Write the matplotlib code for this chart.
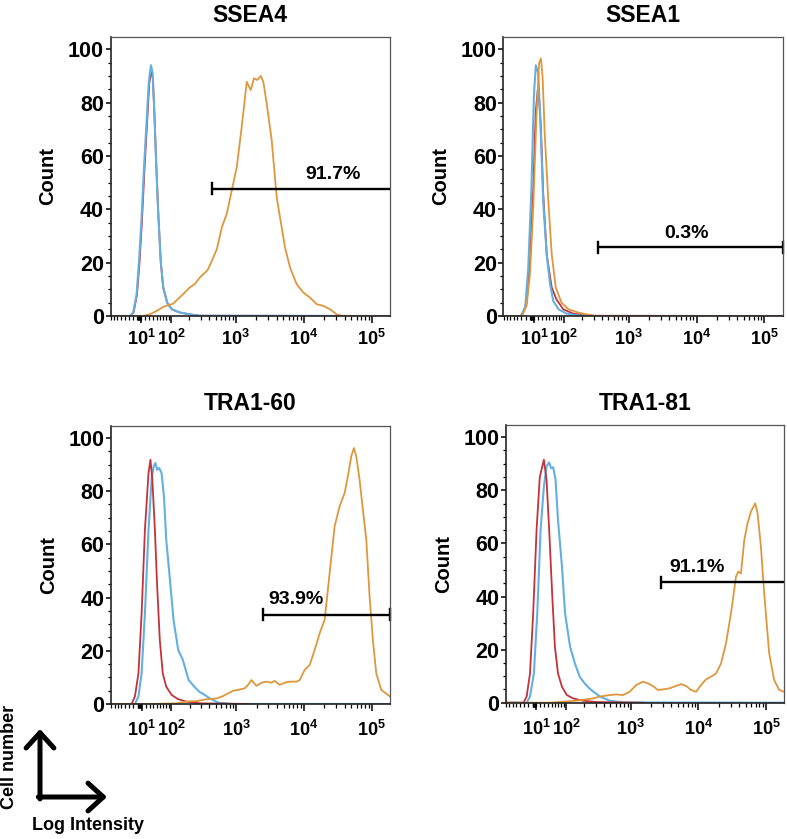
import numpy as np
import matplotlib
matplotlib.use("Agg")
import matplotlib.pyplot as plt
from matplotlib.ticker import FixedLocator, NullFormatter, MultipleLocator
from matplotlib.transforms import blended_transform_factory
from matplotlib.patches import FancyArrowPatch

plt.rcParams['font.family'] = ['Liberation Sans', 'DejaVu Sans']
plt.rcParams['font.weight'] = 'bold'
plt.rcParams['mathtext.fontset'] = 'custom'
plt.rcParams['mathtext.rm'] = 'Liberation Sans:bold'
plt.rcParams['mathtext.bf'] = 'Liberation Sans:bold'
plt.rcParams['mathtext.default'] = 'bf'

# ---------------- data ----------------
panel_titles = ["SSEA4", "SSEA1", "TRA1-60", "TRA1-81"]
gate_labels = ["91.7%", "0.3%", "93.9%", "91.1%"]
gate_start = [441, 350, 2495, 2825]
gate_end = [186000, 186000, 186000, 186000]
gate_level = [47.8, 25.7, 33.5, 45.4]
x_tick_values = [1e1, 1e2, 1e3, 1e4, 1e5]
x_tick_labels = [r"$10^{1}$", r"$10^{2}$", r"$10^{3}$", r"$10^{4}$", r"$10^{5}$"]
y_tick_values = [0, 20, 40, 60, 80, 100]

# SSEA4
ssea4_red_x = [-72, -16, -8, 0, 6, 12, 18, 25, 30, 35, 39.5, 44, 48.5, 54.5, 63, 71, 85, 103, 142, 204, 290, 186000]
ssea4_red_y = [0, 0, 1.3, 8, 20, 36, 55, 74, 87, 92, 89, 75, 59, 40, 20, 10.5, 5, 2.5, 1.3, 0.6, 0.1, 0]
ssea4_blue_x = [-72, -17, -9, -1, 5, 11, 17, 24, 29, 34.5, 39, 43.5, 48, 54, 62.5, 71, 85, 103, 142, 204, 290, 186000]
ssea4_blue_y = [0, 0, 1.3, 8, 20.7, 37, 56, 75, 88, 94, 91, 77, 60, 41, 20.7, 10.7, 5, 2.5, 1.3, 0.6, 0.1, 0]
ssea4_orange_x = [-72, 15, 31, 50, 71, 89, 109, 131, 160, 204, 242, 290, 380, 441, 523, 619, 733, 868, 1029, 1219,
                  1444, 1656, 1851, 2070, 2322, 2536, 2844, 3372, 3993, 4730, 5295, 6272, 7870, 9850, 12350, 15520,
                  19420, 24330, 30530, 38200, 186000]
ssea4_orange_y = [0, 0, 0.6, 1.9, 3.4, 4.1, 4.6, 6.3, 8.2, 10.7, 11.9, 14.4, 17.2, 20.7, 25.1, 33.2, 38.3, 47, 55.8, 70.9,
                  87.8, 84.7, 89.1, 88.5, 90, 87.8, 79.7, 65.9, 44.5, 33.2, 25.7, 18.2, 11.9, 8.8, 6.9, 4.4,
                  3.8, 2.5, 0.6, 0, 0]

# SSEA1
ssea1_red_x = [-72, -19, -7.5, 0.5, 8.3, 14.5, 20.5, 27, 33, 42.5, 57, 72, 98, 145, 235, 186000]
ssea1_red_y = [0, 0, 5, 20.7, 48, 77, 86.6, 71, 46, 23, 10.7, 6.3, 2.5, 0.9, 0.1, 0]
ssea1_blue_x = [-72, -22, -11, -3.6, 4, 10, 14.5, 20.5, 27, 33, 42.5, 52, 62, 80, 112, 163, 262, 186000]
ssea1_blue_y = [0, 0, 3, 18, 48, 83, 94, 91, 68, 43, 23, 12, 5.6, 2.5, 0.9, 0.25, 0, 0]
ssea1_orange_x = [-72, -19, -7.5, 0.5, 8.3, 16, 22.5, 27, 31.5, 37, 47, 57, 70, 91, 121, 174, 262, 330, 186000]
ssea1_orange_y = [0, 0, 3.8, 15.7, 40.8, 74.7, 94.7, 96.6, 89.7, 68.4, 43.3, 23.2, 10.7, 5, 2.5, 1.3, 0.4, 0, 0]

# TRA1-60
tra160_red_x = [-72, -14, -6, 2.4, 10, 18, 27, 32, 37, 44, 50.5, 58.5, 68, 80, 101, 131, 177, 290, 1560]
tra160_red_y = [0, 0, 2.8, 11.5, 34, 65.5, 86.8, 91.8, 84.3, 65.5, 44.2, 24, 11.5, 6.5, 3.4, 1.8, 0.9, 0.25, 0]
tra160_blue_x = [-72, -6, 2.4, 10, 18, 27, 35, 40.5, 45.5, 50.5, 56.7, 64, 72, 80, 94, 109, 131, 156, 193, 237,
                 282, 343, 405, 542, 902, 186000]
tra160_blue_y = [0, 0, 2.8, 11.5, 34, 65.5, 84.3, 89.3, 90.6, 88, 88.7, 86.8, 78, 61.7, 46.7, 31.6, 20.3, 16.6, 9, 6.5,
                 4.6, 3.4, 2.1, 0.5, 0, 0]
tra160_orange_x = [-72, 30.6, 123, 177, 258, 370, 513, 643, 761, 902, 1068, 1340, 1500, 1683, 1994, 2362, 2799, 3313,
                   3706, 4393, 5203, 6165, 7744, 8655, 10260, 12160, 14400, 17060, 20200, 23940, 28370, 33590, 39800,
                   44550, 49910, 54580, 59160, 66200, 74100, 83200, 93000, 104000, 116700, 138300, 173000, 186000]
tra160_orange_y = [0, 0, 0.25, 0.9, 1.1, 1.8, 2.1, 3, 4, 5, 5.3, 5.9, 7.2, 9, 6.8, 8, 8.4, 8,
                   8.7, 7.2, 8, 8.4, 8.4, 9, 12.8, 14.7, 20.3, 26.6, 31.6, 49.2, 66.8, 74.3, 79.3,
                   85.6, 93.1, 96.2, 93.1, 84.3, 73, 61.7, 40.4, 24, 11.5, 5.3, 3.4, 2.8]

# TRA1-81
tra181_red_x = [-72, -21, -13, -5, 2.6, 10.7, 18.5, 28.8, 35.8, 43, 52, 60, 70, 84, 103, 133, 190, 310, 1515]
tra181_red_y = [0, 0, 2.3, 11, 33.7, 65, 85, 91.5, 84, 65, 40, 21, 11, 6, 2.9, 1.6, 0.75, 0.25, 0]
tra181_blue_x = [-72, -13, -5, 4.3, 12.4, 20.5, 28.8, 35.8, 43, 48.6, 54.6, 62, 70, 84, 96, 118, 142, 170, 203, 240,
                 290, 350, 490, 770, 186000]
tra181_blue_y = [0, 0, 2.3, 11, 33.7, 65, 81.4, 89, 90.5, 88.3, 88.7, 84, 68.8, 51.3, 33.7, 21, 14.8, 9.8, 7.3, 5.4,
                 3.8, 2.3, 0.75, 0.1, 0]
tra181_orange_x = [-72, 44, 150, 220, 274, 344, 490, 615, 770, 965, 1210, 1515, 1794, 2126, 2520, 2985, 3744, 4698,
                   5566, 6594, 7812, 9260, 10970, 13000, 15400, 18250, 21620, 25620, 30350, 35960, 38900, 42600,
                   47700, 53300, 59800, 69200, 74900, 83900, 93900, 111200, 131800, 156200, 186000]
tra181_orange_y = [0, 0, 0.75, 1.3, 1.6, 2.3, 2.9, 3.1, 2.9, 4.1, 6.7, 7.9, 7.3, 6.3, 4.8, 5, 5.4, 6.3,
                   7, 6.3, 4.8, 4.1, 6.7, 8.8, 9.8, 11, 14.8, 22.4, 33.7, 47.5, 49.4, 48.7,
                   61.3, 67.6, 72, 75.1, 71.4, 58.8, 41.2, 18.6, 8.5, 4.8, 4.1]

# ---------------- styling ----------------
RED = "#c4323a"
BLUE = "#62b0e2"
ORANGE = "#df973d"

W_ASINH = 70.0
def fwd(x):
    return np.arcsinh(np.asarray(x, dtype=float) / W_ASINH) / np.log(10)
def inv(y):
    return W_ASINH * np.sinh(np.asarray(y, dtype=float) * np.log(10))

fig = plt.figure(figsize=(7.87, 8.39), dpi=100)

W, H = 787.0, 839.0
# (left px, top px, right px, bottom px)
boxes = [(110.5, 37, 390, 316), (503.3, 37, 782.7, 316),
         (111, 425.7, 390, 704), (505.7, 425, 784.3, 702.7)]

curves = [
    [(ssea4_red_x, ssea4_red_y, RED), (ssea4_blue_x, ssea4_blue_y, BLUE), (ssea4_orange_x, ssea4_orange_y, ORANGE)],
    [(ssea1_red_x, ssea1_red_y, RED), (ssea1_blue_x, ssea1_blue_y, BLUE), (ssea1_orange_x, ssea1_orange_y, ORANGE)],
    [(tra160_blue_x, tra160_blue_y, BLUE), (tra160_red_x, tra160_red_y, RED), (tra160_orange_x, tra160_orange_y, ORANGE)],
    [(tra181_blue_x, tra181_blue_y, BLUE), (tra181_red_x, tra181_red_y, RED), (tra181_orange_x, tra181_orange_y, ORANGE)],
]
caps = [(True, False), (True, True), (True, True), (True, False)]
label_pos = [(0.796, 53.0), (0.656, 30.9), (0.664, 39.1), (0.688, 50.8)]
xlabel_pad = [4.5, 4.5, 6.5, 6.5]

minor_x = ([-10 * k for k in range(1, 8)] + list(range(1, 10)) +
           [m * 10 ** e for e in range(1, 5) for m in range(2, 10)])

for i, (l, t, r, b) in enumerate(boxes):
    ax = fig.add_axes([l / W, 1 - b / H, (r - l) / W, (b - t) / H])
    ax.set_xscale('function', functions=(fwd, inv))
    ax.set_xlim(-71.6, 186000)
    ax.set_ylim(0, 104.6)
    for xs, ys, c in curves[i]:
        lw = 1.5 if c == BLUE else 1.3
        ax.plot(xs, ys, color=c, lw=lw, solid_joinstyle='round', clip_on=True)
    # gate
    gy = gate_level[i]
    ax.plot([gate_start[i], gate_end[i]], [gy, gy], color='black', lw=1.7, clip_on=False,
            solid_capstyle='butt')
    if caps[i][0]:
        ax.plot([gate_start[i]] * 2, [gy - 2.1, gy + 2.1], color='black', lw=1.7, clip_on=False)
    if caps[i][1]:
        ax.plot([gate_end[i]] * 2, [gy - 2.1, gy + 2.1], color='black', lw=1.7, clip_on=False)
    trans = blended_transform_factory(ax.transAxes, ax.transData)
    ax.text(label_pos[i][0], label_pos[i][1], gate_labels[i], transform=trans, ha='center', va='center',
            fontsize=14, fontweight='bold')

    ax.set_title(panel_titles[i], fontsize=16.5, fontweight='bold', pad=11)
    ax.set_ylabel("Count", fontsize=14.5, fontweight='bold')
    ax.yaxis.set_label_coords(-0.19, 0.5)

    ax.xaxis.set_major_locator(FixedLocator(x_tick_values))
    ax.set_xticklabels(x_tick_labels)
    ax.xaxis.set_minor_locator(FixedLocator(minor_x))
    ax.xaxis.set_minor_formatter(NullFormatter())
    ax.yaxis.set_major_locator(FixedLocator(y_tick_values))
    ax.yaxis.set_minor_locator(MultipleLocator(5))

    ax.tick_params(axis='x', which='major', length=5, width=1.1, pad=xlabel_pad[i], labelsize=13, direction='out')
    ax.tick_params(axis='x', which='minor', length=3.2, width=0.9, direction='out')
    ax.tick_params(axis='y', which='major', length=3.6, width=1.1, pad=1, labelsize=15.5, direction='out')
    ax.tick_params(axis='y', which='minor', length=2.2, width=0.9, direction='out')
    for lab in ax.get_yticklabels() + ax.get_xticklabels():
        lab.set_fontweight('bold')
    for s in ['left', 'bottom']:
        ax.spines[s].set_linewidth(1.2)
        ax.spines[s].set_color('#222222')
    for s in ['top', 'right']:
        ax.spines[s].set_linewidth(0.9)
        ax.spines[s].set_color('#555555')

# axis-direction legend (bottom left)
arr_kw = dict(arrowstyle='->,head_length=0.55,head_width=0.5', mutation_scale=20, lw=3.6, color='black',
              transform=fig.transFigure, shrinkA=0, shrinkB=0)
fig.add_artist(FancyArrowPatch((40 / W, 1 - 799 / H), (40 / W, 1 - 729 / H), **arr_kw))
fig.add_artist(FancyArrowPatch((38.3 / W, 1 - 797 / H), (107 / W, 1 - 797 / H), **arr_kw))
fig.text(10 / W, 1 - 757 / H, "Cell number", rotation=90, ha='center', va='center', fontsize=13, fontweight='bold')
fig.text(87.5 / W, 1 - 826 / H, "Log Intensity", ha='center', va='center', fontsize=13, fontweight='bold')

fig.savefig("out.png", dpi=100)
